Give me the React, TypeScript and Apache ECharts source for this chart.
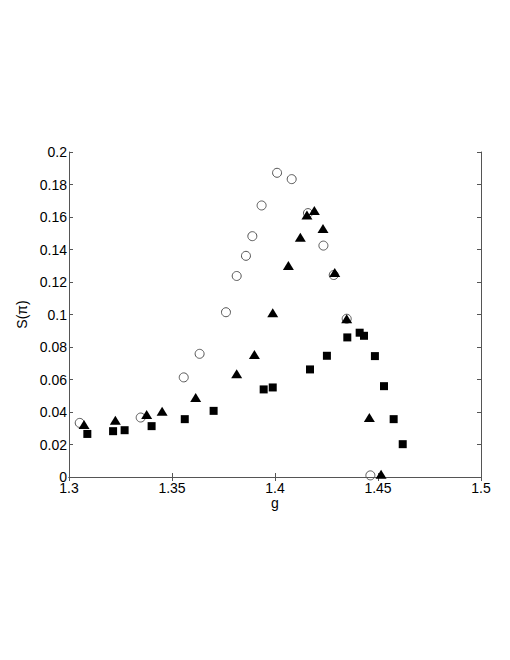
import React, { useEffect, useRef } from "react";
import * as echarts from "echarts";

const circleX = [1.3052, 1.3348, 1.3557, 1.3634, 1.3762, 1.3814, 1.3859, 1.389, 1.3935, 1.401, 1.4081, 1.416, 1.4235, 1.4285, 1.4348, 1.4463];
const circleY = [0.0333, 0.0366, 0.0613, 0.0758, 0.1014, 0.1237, 0.1361, 0.1482, 0.1671, 0.1872, 0.1833, 0.1624, 0.1424, 0.1243, 0.0974, 0.001];

const triX = [1.3073, 1.3225, 1.3377, 1.3452, 1.3615, 1.3814, 1.39, 1.3989, 1.4065, 1.4123, 1.4155, 1.4191, 1.4233, 1.429, 1.4348, 1.4458, 1.4515];
const triY = [0.0323, 0.035, 0.0385, 0.0405, 0.049, 0.0635, 0.0754, 0.1011, 0.1301, 0.1476, 0.1613, 0.164, 0.1529, 0.1258, 0.0974, 0.0366, 0.0017];

const sqX = [1.3089, 1.3214, 1.327, 1.3401, 1.3562, 1.3702, 1.3945, 1.3989, 1.417, 1.4252, 1.4351, 1.4411, 1.4432, 1.4485, 1.4529, 1.4576, 1.462];
const sqY = [0.0265, 0.0282, 0.0288, 0.0313, 0.0356, 0.0407, 0.0539, 0.0551, 0.0662, 0.0746, 0.0859, 0.0888, 0.0869, 0.0744, 0.0559, 0.0356, 0.0202];

const xTicks = ["1.3", "1.35", "1.4", "1.45", "1.5"];
const yTicks = ["0", "0.02", "0.04", "0.06", "0.08", "0.1", "0.12", "0.14", "0.16", "0.18", "0.2"];

const zip = (xs: number[], ys: number[]) => xs.map((x, i) => [x, ys[i]]);

export default function App() {
  const ref = useRef<HTMLDivElement>(null);
  useEffect(() => {
    document.body.style.margin = "0";
    const chart = echarts.init(ref.current!, undefined, { renderer: "svg" });
    const axisColor = "#555";
    const font = "Liberation Sans, Arial, sans-serif";
    const baseX = {
      type: "value" as const,
      min: 1.3,
      max: 1.5,
      interval: 0.05,
      splitLine: { show: false },
      axisLine: { show: true, lineStyle: { color: axisColor, width: 1 } },
      axisTick: { show: true, inside: true, length: 4, lineStyle: { color: axisColor } },
    };
    const baseY = {
      type: "value" as const,
      min: 0,
      max: 0.2,
      interval: 0.02,
      splitLine: { show: false },
      axisLine: { show: true, lineStyle: { color: axisColor, width: 1 } },
      axisTick: { show: true, inside: true, length: 4, lineStyle: { color: axisColor } },
    };
    chart.setOption({
      animation: false,
      backgroundColor: "#fff",
      grid: { left: 69, top: 152, width: 412, height: 325, containLabel: false },
      xAxis: [
        {
          ...baseX,
          position: "bottom",
          name: "g",
          nameLocation: "middle",
          nameGap: 19,
          nameTextStyle: { color: "#000", fontSize: 14, fontFamily: font },
          axisLabel: {
            color: "#000",
            fontSize: 14,
            fontFamily: font,
            margin: 4,
            formatter: (v: number) => {
              const i = Math.round((v - 1.3) / 0.05);
              return xTicks[i] ?? "";
            },
          },
        },
        { ...baseX, position: "top", axisLabel: { show: false } },
      ],
      yAxis: [
        {
          ...baseY,
          position: "left",
          name: "S(π)",
          nameLocation: "middle",
          nameGap: 36,
          nameTextStyle: { color: "#000", fontSize: 14, fontFamily: font },
          axisLabel: {
            color: "#000",
            fontSize: 14,
            fontFamily: font,
            margin: 2,
            formatter: (v: number) => {
              const i = Math.round(v / 0.02);
              return yTicks[i] ?? "";
            },
          },
        },
        { ...baseY, position: "right", axisLabel: { show: false } },
      ],
      series: [
        {
          type: "scatter",
          data: zip(circleX, circleY),
          symbol: "circle",
          symbolSize: 9,
          itemStyle: { color: "rgba(255,255,255,0)", borderColor: "#555", borderWidth: 1, opacity: 1 },
          z: 1,
        },
        {
          type: "scatter",
          data: zip(triX, triY),
          symbol: "triangle",
          symbolSize: [11, 9],
          itemStyle: { color: "#000", opacity: 1 },
          z: 2,
        },
        {
          type: "scatter",
          data: zip(sqX, sqY),
          symbol: "rect",
          symbolSize: 8,
          itemStyle: { color: "#000", opacity: 1 },
          z: 3,
        },
      ],
    });
    return () => chart.dispose();
  }, []);
  return <div ref={ref} style={{ width: 510, height: 660 }} />;
}
